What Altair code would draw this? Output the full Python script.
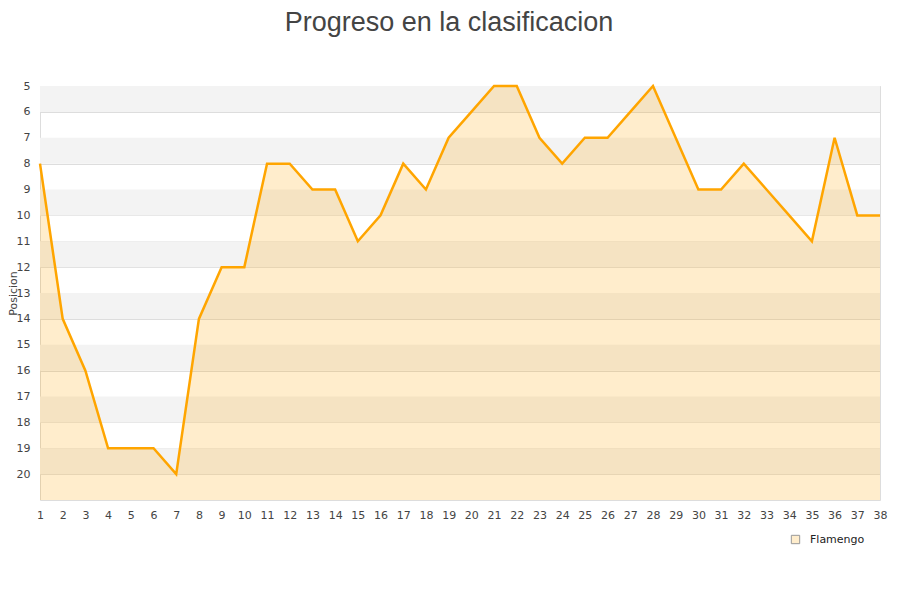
import altair as alt
import pandas as pd

jornadas = list(range(1, 39))
posiciones = [8, 14, 16, 19, 19, 19, 20, 14, 12, 12, 8, 8, 9, 9, 11, 10, 8, 9, 7, 6,
              5, 5, 7, 8, 7, 7, 6, 5, 7, 9, 9, 8, 9, 10, 11, 7, 10, 10]
equipo = "Flamengo"
band_starts = [5, 7, 9, 11, 13, 15, 17, 19]

df = pd.DataFrame({"jornada": jornadas, "pos": posiciones, "equipo": [equipo] * len(jornadas)})
bands = pd.DataFrame({"start": band_starts, "end": [b + 1 for b in band_starts]})

xscale = alt.Scale(domain=[1, 38], nice=False, zero=False)
yscale = alt.Scale(domain=[5, 21], reverse=True, nice=False, zero=False)

xaxis = alt.Axis(values=jornadas, title=None, grid=False, ticks=False, domain=False,
                 labelFont="DejaVu Sans", labelFontSize=11, labelColor="#444",
                 labelPadding=9, labelFlush=False, labelOverlap=False)
yaxis = alt.Axis(values=list(range(5, 21)), title="Posicion", grid=True, gridColor="#dddddd",
                 ticks=False, domain=False, labelFont="DejaVu Sans", labelFontSize=11,
                 labelColor="#444", labelPadding=10, titleFont="DejaVu Sans",
                 titleFontSize=11, titleFontWeight="normal", titleColor="#444",
                 titleAngle=270, titleAlign="center", titleBaseline="middle",
                 titleX=-26.5, titleY=207)

band_layer = alt.Chart(bands).mark_rect(color="#f3f3f3").encode(
    x=alt.XDatum(1, scale=xscale, axis=xaxis),
    x2=alt.datum(38),
    y=alt.Y("start:Q", scale=yscale, axis=yaxis),
    y2="end:Q",
)

area_layer = alt.Chart(df).mark_area().encode(
    x=alt.X("jornada:Q", scale=xscale, axis=xaxis),
    y=alt.Y("pos:Q", scale=yscale, axis=yaxis),
    y2=alt.datum(21),
    color=alt.Color("equipo:N",
                    scale=alt.Scale(domain=[equipo], range=["rgba(255,165,0,0.2)"]),
                    legend=alt.Legend(title=None, orient="none", legendX=750, legendY=448,
                                      symbolType="square", symbolSize=70,
                                      symbolStrokeColor="#999", symbolStrokeWidth=1,
                                      labelOffset=9,
                                      labelFont="DejaVu Sans", labelFontSize=11,
                                      labelColor="#222")),
)

line_layer = alt.Chart(df).mark_line(color="#FFA500", strokeWidth=2.5).encode(
    x=alt.X("jornada:Q", scale=xscale, axis=xaxis),
    y=alt.Y("pos:Q", scale=yscale, axis=yaxis),
)

chart = alt.layer(band_layer, area_layer, line_layer).properties(
    width=840,
    height=414,
    padding={"left": 32, "top": 78, "right": 12, "bottom": 90},
    autosize=alt.AutoSizeParams(type="none"),
    title=alt.TitleParams("Progreso en la clasificacion", font="Liberation Sans", fontSize=27,
                          fontWeight="normal", color="#444", anchor="middle", offset=43, dx=-11),
    background="white",
).configure_view(stroke="#dddddd").configure_axisX(labelOverlap=False)

chart.save("out.html", embed_options={"renderer": "svg", "actions": False})
